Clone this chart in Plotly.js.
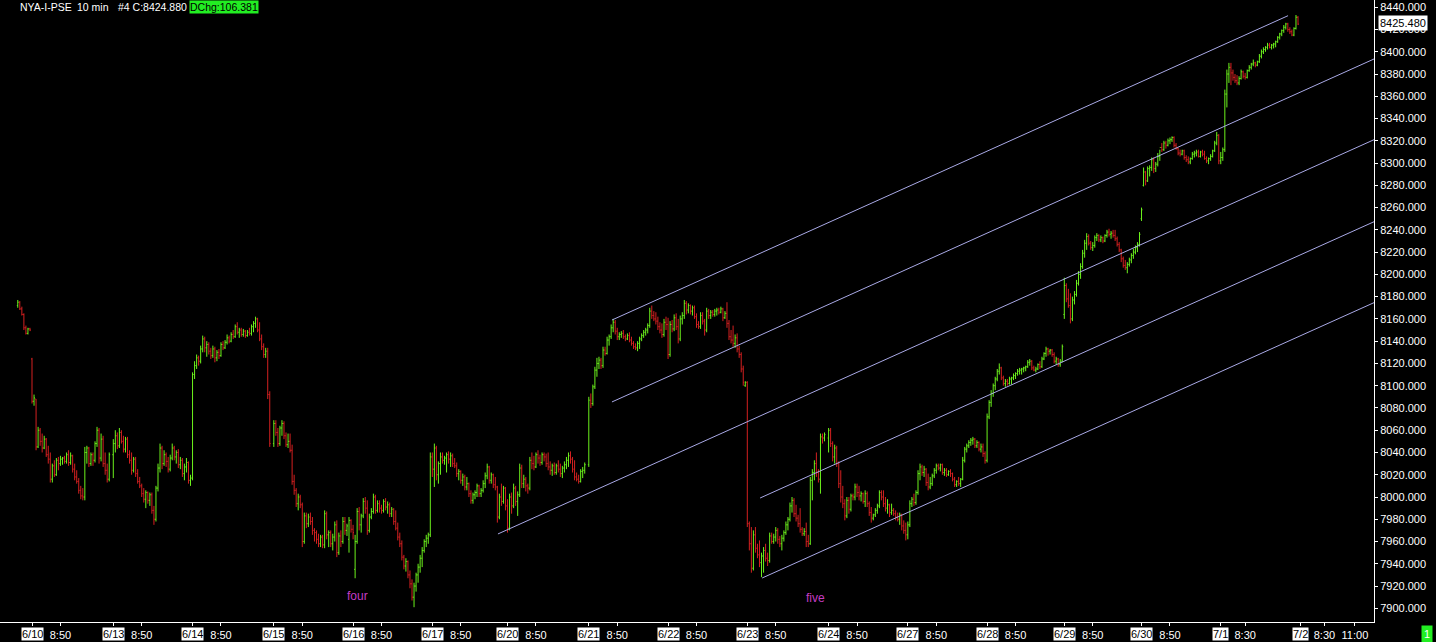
<!DOCTYPE html>
<html><head><meta charset="utf-8">
<script src="https://cdn.plot.ly/plotly-3.0.1.min.js"></script>
<style>
html,body{margin:0;padding:0;background:#000;overflow:hidden;}
#chart{width:1436px;height:642px;}
</style>
</head><body><div id="chart"></div>
<script>
// Each bar: [open, high, low, close], 10-minute bars
const d0609 = [[8172,8177,8170,8175],[8175,8176,8168,8169],[8169,8171,8163,8164],[8164,8165,8150,8152],[8152,8154,8146,8147],[8147,8152,8146,8151],[8151,8152,8149,8150]];
const d0610 = [[8124,8125,8084,8086],[8086,8092,8082,8089],[8088,8088,8042,8045],[8045,8063,8044,8060],[8060,8062,8046,8050],[8050,8057,8040,8044],[8044,8055,8043,8052],[8052,8053,8036,8038],[8038,8046,8030,8034],[8034,8040,8013,8016],
[8016,8030,8013,8028],[8028,8033,8018,8020],[8020,8035,8019,8033],[8033,8036,8024,8030],[8030,8037,8028,8034],[8034,8036,8029,8035],[8035,8037,8030,8032],[8032,8040,8030,8038],[8038,8042,8028,8031],[8031,8040,8029,8037],
[8037,8038,8022,8025],[8025,8030,8015,8018],[8018,8024,8012,8014],[8014,8017,8003,8006],[8006,8010,7998,8001],[8001,8008,7997,8000],[8000,8045,7997,8040],[8040,8046,8030,8044],[8044,8045,8027,8030],[8030,8040,8028,8038],
[8038,8040,8028,8033],[8033,8050,8031,8048],[8048,8063,8045,8060],[8060,8062,8030,8035],[8035,8057,8032,8052],[8052,8055,8027,8030],[8030,8040,8020,8024],[8024,8030,8013,8016],[8016,8040,8014,8038]];
const d0613 = [[8038,8052,8017,8048],[8048,8060,8040,8055],[8055,8058,8043,8046],[8046,8062,8044,8058],[8058,8060,8048,8050],[8050,8055,8040,8043],[8043,8054,8040,8052],[8052,8054,8035,8038],[8038,8042,8030,8033],[8033,8040,8020,8024],
[8024,8036,8022,8034],[8034,8036,8018,8021],[8021,8025,8012,8014],[8014,8018,8008,8010],[8010,8012,8000,8003],[8003,8008,7995,7998],[7998,8006,7990,8004],[8004,8005,7994,7997],[7997,8004,7992,8002],[8002,8004,7985,7988],
[7988,7992,7975,7980],[7980,8010,7978,8008],[8008,8030,8005,8026],[8026,8048,8022,8044],[8044,8046,8025,8030],[8030,8042,8028,8038],[8038,8040,8027,8032],[8032,8036,8022,8025],[8025,8038,8023,8035],[8035,8048,8033,8044],
[8044,8046,8033,8036],[8036,8042,8030,8040],[8040,8043,8026,8029],[8029,8036,8025,8033],[8033,8035,8018,8021],[8021,8030,8015,8027],[8027,8035,8022,8031],[8031,8032,8012,8015],[8015,8020,8010,8017]];
const d0614 = [[8017,8112,8015,8110],[8110,8122,8106,8118],[8118,8128,8115,8125],[8125,8127,8118,8122],[8122,8136,8120,8133],[8133,8145,8130,8142],[8142,8144,8130,8134],[8134,8140,8126,8137],[8137,8139,8128,8131],[8131,8134,8124,8127],
[8127,8136,8125,8133],[8133,8135,8121,8125],[8125,8132,8122,8130],[8130,8133,8124,8127],[8127,8139,8126,8137],[8137,8140,8132,8134],[8134,8141,8133,8139],[8139,8146,8137,8143],[8143,8145,8138,8140],[8140,8148,8139,8146],
[8146,8150,8142,8144],[8144,8155,8143,8153],[8153,8157,8146,8148],[8148,8152,8143,8150],[8150,8152,8144,8146],[8146,8151,8144,8149],[8149,8150,8143,8145],[8145,8150,8144,8148],[8148,8152,8145,8147],[8147,8155,8145,8153],
[8153,8158,8148,8156],[8156,8162,8152,8160],[8160,8161,8148,8150],[8150,8157,8140,8142],[8142,8146,8132,8135],[8135,8138,8125,8128],[8128,8134,8125,8131],[8131,8134,8088,8092],[8092,8095,8045,8048]];
const d0615 = [[8048,8069,8045,8066],[8066,8069,8055,8058],[8058,8062,8045,8048],[8048,8064,8046,8062],[8062,8069,8055,8066],[8066,8068,8052,8055],[8055,8058,8045,8047],[8047,8057,8044,8050],[8050,8057,8040,8042],[8042,8047,8011,8014],
[8014,8020,8002,8006],[8006,8008,7991,7994],[7994,8003,7988,8000],[8000,8002,7990,7993],[7993,7995,7955,7960],[7960,7986,7958,7983],[7983,7986,7972,7976],[7976,7985,7973,7982],[7982,7986,7975,7978],[7978,7982,7966,7970],
[7970,7972,7960,7968],[7968,7970,7958,7962],[7962,7967,7955,7958],[7958,7966,7955,7964],[7964,7966,7954,7957],[7957,7988,7954,7985],[7985,7987,7962,7966],[7966,7970,7955,7968],[7968,7970,7955,7958],[7958,7967,7952,7964],
[7964,7978,7960,7975],[7975,7979,7946,7950],[7950,7968,7948,7965],[7965,7970,7955,7960],[7960,7982,7958,7978],[7978,7982,7966,7970],[7970,7976,7965,7974],[7962,7982,7950,7979],[7979,7980,7968,7971]];
const d0616 = [[7971,7975,7962,7968],[7935,7966,7927,7960],[7960,7990,7958,7987],[7987,7991,7970,7975],[7975,7985,7968,7983],[7983,7999,7981,7996],[7996,8000,7985,7990],[7990,7997,7966,7970],[7970,7985,7968,7982],[7982,7990,7980,7987],
[7987,8003,7985,8000],[8000,8002,7985,7988],[7988,7997,7986,7994],[7994,7997,7986,7990],[7990,7993,7985,7988],[7988,7998,7986,7996],[7996,7999,7988,7991],[7991,7996,7985,7993],[7993,7995,7982,7985],[7985,7991,7982,7989],
[7989,7990,7975,7978],[7978,7988,7970,7972],[7972,7977,7961,7964],[7964,7968,7955,7958],[7958,7961,7943,7946],[7946,7948,7935,7938],[7938,7945,7933,7942],[7942,7943,7927,7930],[7930,7934,7918,7922],[7922,7926,7907,7910],
[7910,7923,7901,7920],[7920,7932,7915,7930],[7930,7940,7923,7937],[7937,7948,7932,7945],[7945,7955,7937,7952],[7952,7962,7950,7960],[7960,7966,7955,7963],[7963,7968,7958,7966],[7966,8040,7964,8036]];
const d0617 = [[8036,8040,8018,8025],[8025,8048,8009,8044],[8044,8046,8015,8020],[8020,8032,8012,8030],[8030,8040,8020,8036],[8036,8040,8030,8033],[8033,8037,8029,8035],[8035,8040,8022,8038],[8038,8041,8030,8034],[8034,8040,8027,8037],
[8037,8039,8027,8030],[8030,8035,8026,8028],[8028,8031,8018,8021],[8021,8025,8015,8023],[8023,8024,8012,8015],[8015,8021,8010,8018],[8018,8020,8006,8009],[8009,8018,8006,8012],[8012,8013,8000,8003],[8003,8006,7994,7997],
[7997,8004,7994,8002],[8002,8006,7998,8004],[8004,8012,8000,8010],[8010,8011,8000,8003],[8003,8008,8000,8006],[8006,8015,8004,8012],[8012,8022,8008,8019],[8019,8030,8016,8027],[8027,8028,8012,8015],[8015,8022,8012,8020],
[8020,8021,8008,8011],[8011,8018,8006,8009],[8009,8010,7977,7982],[7982,8003,7980,8000],[8000,8012,7992,7996],[7996,8010,7994,8008],[8008,8009,7988,7992]];
const d0620 = [[7992,7998,7968,7972],[7972,8003,7970,8000],[8000,8004,7985,7992],[7992,8012,7990,8008],[8008,8010,7992,7996],[7996,8005,7983,8002],[8002,8030,8000,8026],[8026,8029,8008,8012],[8012,8020,8008,8016],[8016,8018,8005,8010],
[8010,8012,8003,8008],[8008,8036,8006,8033],[8033,8040,8025,8030],[8030,8037,8024,8027],[8027,8040,8026,8038],[8038,8042,8030,8035],[8035,8038,8028,8031],[8031,8040,8029,8038],[8038,8040,8032,8036],[8036,8039,8027,8030],
[8030,8040,8024,8027],[8027,8032,8020,8024],[8024,8030,8019,8028],[8028,8031,8020,8022],[8022,8030,8020,8028],[8028,8033,8022,8025],[8025,8030,8018,8021],[8021,8028,8017,8026],[8026,8032,8022,8029],[8029,8036,8025,8033],
[8033,8040,8027,8037],[8037,8041,8030,8034],[8034,8036,8022,8025],[8025,8033,8015,8018],[8018,8022,8014,8016],[8016,8020,8012,8014],[8014,8025,8013,8023],[8023,8027,8017,8024],[8024,8031,8021,8029]];
const d0621 = [[8029,8090,8027,8087],[8087,8093,8080,8084],[8084,8101,8082,8099],[8099,8117,8097,8114],[8114,8125,8108,8120],[8120,8126,8115,8123],[8123,8125,8115,8118],[8118,8135,8116,8132],[8132,8135,8127,8129],[8129,8144,8128,8141],
[8141,8146,8136,8144],[8144,8155,8142,8152],[8152,8160,8148,8157],[8157,8159,8146,8149],[8149,8152,8141,8144],[8144,8148,8141,8146],[8146,8149,8143,8147],[8147,8150,8142,8144],[8144,8146,8140,8142],[8142,8147,8141,8145],
[8145,8148,8139,8141],[8141,8144,8136,8138],[8138,8140,8133,8135],[8135,8138,8132,8134],[8134,8140,8131,8138],[8138,8144,8133,8142],[8142,8147,8140,8145],[8145,8150,8143,8148],[8148,8152,8145,8150],[8150,8156,8147,8154],
[8154,8170,8152,8167],[8167,8172,8160,8163],[8163,8167,8158,8160],[8160,8166,8155,8158],[8158,8162,8150,8153],[8153,8157,8147,8150],[8150,8156,8143,8146],[8146,8160,8144,8157],[8157,8162,8150,8155]];
const d0622 = [[8155,8161,8124,8128],[8128,8158,8126,8155],[8155,8159,8148,8151],[8151,8164,8149,8161],[8161,8165,8150,8153],[8153,8160,8138,8142],[8142,8163,8140,8160],[8160,8166,8155,8163],[8163,8177,8160,8174],[8174,8176,8164,8168],
[8168,8174,8165,8172],[8172,8173,8164,8167],[8167,8172,8163,8170],[8170,8172,8160,8162],[8162,8165,8152,8155],[8155,8158,8151,8153],[8153,8166,8151,8163],[8163,8166,8155,8158],[8158,8160,8145,8150],[8150,8170,8148,8167],
[8167,8169,8160,8163],[8163,8168,8160,8166],[8166,8168,8162,8164],[8164,8169,8162,8167],[8167,8170,8163,8168],[8168,8170,8164,8166],[8166,8171,8165,8169],[8169,8170,8158,8161],[8161,8167,8160,8165],[8165,8175,8152,8156],
[8156,8159,8141,8144],[8144,8150,8138,8141],[8141,8154,8135,8138],[8138,8146,8134,8143],[8143,8147,8130,8133],[8133,8136,8125,8128],[8128,8130,8112,8115],[8115,8118,8100,8103],[8100,8104,8099,8103]];
const d0623 = [[8103,8104,7973,7976],[7976,7978,7952,7958],[7958,7973,7932,7936],[7936,7970,7934,7966],[7966,7973,7950,7954],[7954,7958,7945,7948],[7948,7961,7937,7941],[7941,7950,7928,7947],[7947,7955,7932,7952],[7952,7958,7942,7945],
[7945,7950,7938,7943],[7943,7968,7941,7965],[7965,7968,7958,7960],[7960,7967,7958,7964],[7964,7973,7960,7970],[7970,7972,7958,7962],[7962,7965,7955,7958],[7958,7966,7952,7963],[7963,7970,7960,7968],[7968,7978,7966,7975],
[7975,7982,7970,7980],[7980,7995,7978,7992],[7992,8000,7986,7997],[7997,7999,7982,7985],[7985,7993,7978,7981],[7981,7984,7973,7976],[7976,7990,7968,7971],[7971,7973,7965,7967],[7967,7972,7965,7969],[7969,7977,7955,7960],
[7960,7966,7955,7958],[7958,8018,7957,8015],[8015,8025,7997,8022],[8022,8033,8015,8030],[8030,8040,8018,8022],[8022,8025,8013,8016],[8016,8057,8003,8054],[8054,8057,8048,8053],[8053,8058,8050,8056]];
const d0624 = [[8053,8062,8040,8060],[8060,8062,8045,8048],[8048,8050,8032,8036],[8036,8047,8030,8044],[8044,8046,8027,8030],[8030,8032,8008,8012],[8012,8024,7995,8000],[8000,8010,7990,7994],[7994,7998,7979,7983],[7983,8000,7981,7997],
[7997,8000,7985,7989],[7989,8003,7987,8001],[8001,8003,7997,8000],[8000,8012,7997,8009],[8009,8012,8000,8004],[8004,8010,7997,8001],[8001,8005,7996,8003],[8003,8004,7994,7996],[7996,8006,7991,8003],[8003,8005,7991,7994],
[7994,7996,7983,7986],[7986,7991,7977,7981],[7981,7985,7979,7984],[7984,7990,7982,7988],[7988,7994,7985,7992],[7992,8006,7990,8004],[8004,8006,7997,8000],[8000,8006,7991,7994],[7994,8000,7987,7990],[7990,7998,7985,7993],
[7993,7994,7982,7986],[7986,7994,7984,7988],[7988,7990,7983,7985],[7985,7988,7979,7982],[7982,7986,7978,7980],[7980,7986,7975,7984],[7984,7985,7970,7974],[7974,7979,7967,7970],[7970,7977,7961,7966]];
const d0627 = [[7966,7978,7962,7975],[7975,7997,7973,7994],[7994,8000,7991,7998],[7998,8003,7992,7995],[7995,8006,7993,8004],[8004,8024,8002,8021],[8021,8030,8015,8027],[8027,8029,8019,8022],[8022,8028,8018,8025],[8025,8026,8010,8013],
[8013,8021,8006,8009],[8009,8018,8007,8012],[8012,8021,8010,8019],[8019,8026,8017,8024],[8024,8030,8021,8028],[8028,8030,8024,8026],[8026,8030,8023,8029],[8029,8030,8020,8022],[8022,8026,8019,8024],[8024,8026,8018,8020],
[8020,8024,8019,8023],[8023,8025,8018,8021],[8021,8022,8014,8016],[8016,8018,8009,8011],[8011,8015,8009,8014],[8014,8018,8010,8012],[8012,8017,8009,8016],[8016,8036,8015,8033],[8033,8045,8031,8043],[8043,8048,8040,8046],
[8046,8051,8044,8049],[8049,8053,8046,8051],[8051,8054,8047,8052],[8052,8053,8044,8046],[8046,8051,8044,8049],[8049,8050,8041,8043],[8043,8048,8040,8045],[8045,8048,8036,8039],[8039,8041,8030,8033]];
const d0628 = [[8033,8075,8031,8072],[8072,8087,8070,8085],[8085,8096,8081,8093],[8093,8102,8090,8100],[8100,8108,8096,8106],[8106,8115,8104,8113],[8113,8120,8110,8116],[8116,8117,8105,8107],[8107,8109,8100,8102],[8102,8106,8099,8104],
[8104,8106,8100,8102],[8102,8108,8101,8106],[8106,8108,8101,8107],[8107,8111,8105,8109],[8109,8112,8106,8111],[8111,8115,8109,8113],[8113,8116,8110,8114],[8114,8116,8110,8115],[8115,8117,8112,8116],[8116,8118,8113,8117],
[8117,8123,8116,8121],[8121,8124,8118,8122],[8122,8123,8114,8116],[8116,8118,8113,8114],[8114,8117,8112,8115],[8115,8120,8114,8119],[8119,8122,8115,8117],[8117,8126,8116,8124],[8124,8130,8123,8129],[8129,8135,8126,8133],
[8133,8134,8127,8131],[8131,8133,8128,8132],[8132,8133,8126,8128],[8128,8130,8120,8122],[8122,8126,8119,8124],[8124,8125,8117,8119],[8119,8124,8117,8122],[8122,8137,8121,8135]];
const d0629 = [[8164,8197,8160,8190],[8190,8192,8175,8178],[8178,8187,8170,8172],[8172,8183,8156,8160],[8160,8180,8158,8177],[8177,8185,8173,8182],[8182,8195,8180,8192],[8192,8203,8190,8200],[8200,8210,8196,8207],[8207,8222,8205,8219],
[8219,8231,8215,8228],[8228,8237,8222,8234],[8234,8236,8226,8228],[8228,8230,8222,8224],[8224,8229,8221,8226],[8226,8235,8224,8233],[8233,8237,8230,8235],[8235,8236,8229,8231],[8231,8235,8229,8233],[8233,8234,8228,8230],
[8230,8236,8229,8235],[8235,8240,8233,8238],[8238,8241,8234,8236],[8236,8239,8232,8237],[8237,8240,8233,8235],[8235,8240,8230,8232],[8232,8234,8225,8227],[8227,8229,8220,8222],[8222,8223,8211,8214],[8214,8216,8206,8208],
[8208,8213,8204,8206],[8206,8211,8201,8209],[8209,8215,8207,8213],[8213,8219,8210,8217],[8217,8223,8214,8220],[8220,8226,8218,8224],[8224,8229,8220,8227],[8227,8238,8225,8236]];
const d0630 = [[8250,8260,8248,8258],[8280,8296,8279,8292],[8292,8293,8280,8284],[8284,8297,8283,8295],[8295,8298,8288,8296],[8296,8305,8293,8303],[8303,8305,8291,8295],[8295,8301,8292,8299],[8299,8309,8297,8306],[8306,8312,8302,8314],
[8314,8318,8310,8312],[8312,8320,8311,8318],[8318,8320,8313,8316],[8316,8322,8315,8320],[8320,8323,8317,8321],[8321,8324,8319,8323],[8323,8324,8314,8316],[8316,8318,8312,8313],[8313,8314,8307,8309],[8309,8312,8306,8308],
[8308,8312,8307,8311],[8311,8312,8303,8305],[8305,8307,8301,8303],[8303,8306,8299,8301],[8301,8305,8299,8304],[8304,8310,8303,8308],[8308,8311,8305,8309],[8309,8312,8306,8310],[8310,8312,8305,8306],[8306,8311,8305,8310],
[8310,8312,8306,8308],[8308,8311,8303,8304],[8304,8306,8300,8302],[8302,8305,8299,8304],[8304,8308,8302,8306],[8306,8312,8305,8311],[8311,8320,8310,8318],[8318,8328,8316,8325],[8325,8326,8299,8302]];
const d0701 = [[8302,8310,8299,8305],[8305,8314,8302,8312],[8312,8366,8310,8362],[8362,8384,8350,8380],[8380,8390,8372,8386],[8386,8390,8370,8381],[8381,8384,8374,8377],[8377,8380,8372,8374],[8374,8379,8370,8372],[8372,8378,8370,8376],
[8376,8384,8375,8382],[8382,8383,8376,8378],[8378,8381,8375,8377],[8377,8384,8376,8383],[8383,8388,8382,8386],[8386,8390,8384,8389],[8389,8393,8387,8390],[8390,8391,8386,8388],[8388,8392,8387,8391],[8391,8398,8390,8396],
[8396,8402,8394,8400],[8400,8404,8398,8402],[8402,8405,8400,8404],[8404,8408,8402,8406],[8406,8408,8403,8404],[8404,8407,8402,8406],[8406,8408,8403,8407],[8407,8410,8404,8409],[8409,8414,8408,8413],[8413,8417,8411,8416],
[8416,8420,8414,8419],[8419,8424,8417,8422],[8422,8426,8420,8425],[8425,8426,8418,8420],[8420,8422,8416,8418],[8418,8420,8414,8415],[8415,8422,8414,8421],[8421,8433,8420,8431],[8431,8432,8424,8424.88]];

// sessions and the bar slot at which each session starts on the time axis
const dayLabels    = ['6/10','6/13','6/14','6/15','6/16','6/17','6/20','6/21','6/22','6/23','6/24','6/27','6/28','6/29','6/30','7/1','7/2'];
const dayStartSlot = [0, 40, 79, 119, 158, 197, 234, 274, 313, 352, 392, 431, 470, 508, 546, 585, 624];
const daySessions  = [d0610,d0613,d0614,d0615,d0616,d0617,d0620,d0621,d0622,d0623,d0624,d0627,d0628,d0629,d0630,d0701];
const priorSessionTail = d0609;

// intraday time tick labels: [session index, bars after session start, text]
const timeTickDay  = [0,1,2,3,4,5,6,7,8,9,10,11,12,13,14,15,16,16];
const timeTickBar  = [14,14,14,14,14,14,14,14,14,14,14,14,14,14,14,12,12,27];
const timeTickText = ['8:50','8:50','8:50','8:50','8:50','8:50','8:50','8:50','8:50','8:50','8:50','8:50','8:50','8:50','8:50','8:30','8:30','11:00'];

// parallel channel lines (bar slot, price)
const chanX0 = [285.4, 285.4, 229.3, 358.3, 359.3];
const chanY0 = [8159.0, 8085.4, 7966.8, 7999.1, 7927.2];
const chanX1 = [618.1, 660.4, 660.4, 660.4, 660.4];
const chanY1 = [8432.4, 8393.5, 8321.0, 8247.3, 8174.6];

// wave labels
const waveText = ['four','five'];
const waveX = [160.4, 385.8];
const waveY = [7911, 7909];

const headerParts = ['NYA-I-PSE', '10 min', '#4 C:8424.880'];
const headerPx    = [17.5, 75, 116];
const dchgText = 'DChg:106.381';
const lastPrice = 8425.48;

// ---- build trace ----
const xs=[], op=[], hi=[], lo=[], cl=[];
priorSessionTail.forEach((b,k)=>{ xs.push(k - priorSessionTail.length); op.push(b[0]); hi.push(b[1]); lo.push(b[2]); cl.push(b[3]); });
daySessions.forEach((sess,d)=>{ sess.forEach((b,k)=>{ xs.push(dayStartSlot[d] + k); op.push(b[0]); hi.push(b[1]); lo.push(b[2]); cl.push(b[3]); }); });

const FONT = 'Liberation Sans, Arial, Helvetica, sans-serif';
const PLOT_W = 1374;
const trace = {
  type:'ohlc', x:xs, open:op, high:hi, low:lo, close:cl,
  increasing:{line:{color:'#6cf21c', width:1}},
  decreasing:{line:{color:'#d42020', width:1}},
  tickwidth:0.45, hoverinfo:'none', showlegend:false
};

const tickvals=[], ticktext=[];
dayLabels.forEach((t,d)=>{ tickvals.push(dayStartSlot[d]); ticktext.push(''); });
timeTickText.forEach((t,i)=>{ tickvals.push(dayStartSlot[timeTickDay[i]] + timeTickBar[i]); ticktext.push(t); });

const shapes = chanX0.map((x0,i)=>({type:'line', xref:'x', yref:'y', x0:x0, y0:chanY0[i], x1:chanX1[i], y1:chanY1[i], line:{color:'#a9a9e6', width:1}}));

const annotations = [];
dayLabels.forEach((t,d)=>{
  annotations.push({xref:'x', yref:'paper', x:dayStartSlot[d], y:-0.0193, yanchor:'middle', xanchor:'center', text:t, showarrow:false, bgcolor:'#ffffff', borderpad:0, font:{family:FONT, size:11, color:'#000'}});
});
waveText.forEach((t,i)=>{
  annotations.push({xref:'x', yref:'y', x:waveX[i], y:waveY[i], text:t, showarrow:false, font:{family:FONT, size:12, color:'#c43cc4'}});
});
headerParts.forEach((t,i)=>{
  annotations.push({xref:'paper', yref:'paper', x:headerPx[i]/PLOT_W, y:0.9888, xanchor:'left', yanchor:'middle', text:t, showarrow:false, font:{family:FONT, size:10.5, color:'#ffffff'}});
});
annotations.push({xref:'paper', yref:'paper', x:189/PLOT_W, y:0.9895, xanchor:'left', yanchor:'middle', text:dchgText, showarrow:false, bgcolor:'#22ee22', borderpad:0, font:{family:FONT, size:10.5, color:'#000'}});
annotations.push({xref:'paper', yref:'y', x:1378/PLOT_W, y:lastPrice, xanchor:'left', yanchor:'middle', text:lastPrice.toFixed(3), showarrow:false, bgcolor:'#ffffff', borderpad:1, font:{family:FONT, size:11, color:'#000'}});
annotations.push({xref:'paper', yref:'paper', x:1427.5/PLOT_W, y:-0.0193, xanchor:'center', yanchor:'middle', text:'1', showarrow:false, bgcolor:'#22ee22', borderpad:2, font:{family:FONT, size:11, color:'#ffffff'}});

const layout = {
  width:1436, height:642,
  margin:{l:0, r:62, t:0, b:20, pad:0},
  paper_bgcolor:'#000', plot_bgcolor:'#000',
  font:{family:FONT, size:11, color:'#fff'},
  showlegend:false, hovermode:false, dragmode:false,
  xaxis:{range:[-15.75, 660.4], showgrid:false, zeroline:false, showline:true, linecolor:'#fff', linewidth:1,
         ticks:'outside', ticklen:3, tickcolor:'#fff', tickvals:tickvals, ticktext:ticktext, tickangle:0,
         tickfont:{family:FONT, size:11, color:'#fff'}, rangeslider:{visible:false}, fixedrange:true},
  yaxis:{side:'right', range:[7887.7, 8446.5], tick0:7900, dtick:20, tickformat:'.3f', showgrid:false, zeroline:false,
         showline:true, linecolor:'#fff', linewidth:1, ticks:'outside', ticklen:3, tickcolor:'#fff',
         tickfont:{family:FONT, size:11, color:'#fff'}, fixedrange:true},
  shapes:shapes, annotations:annotations
};
Plotly.newPlot('chart', [trace], layout, {displayModeBar:false, staticPlot:true});
</script>
</body></html>
